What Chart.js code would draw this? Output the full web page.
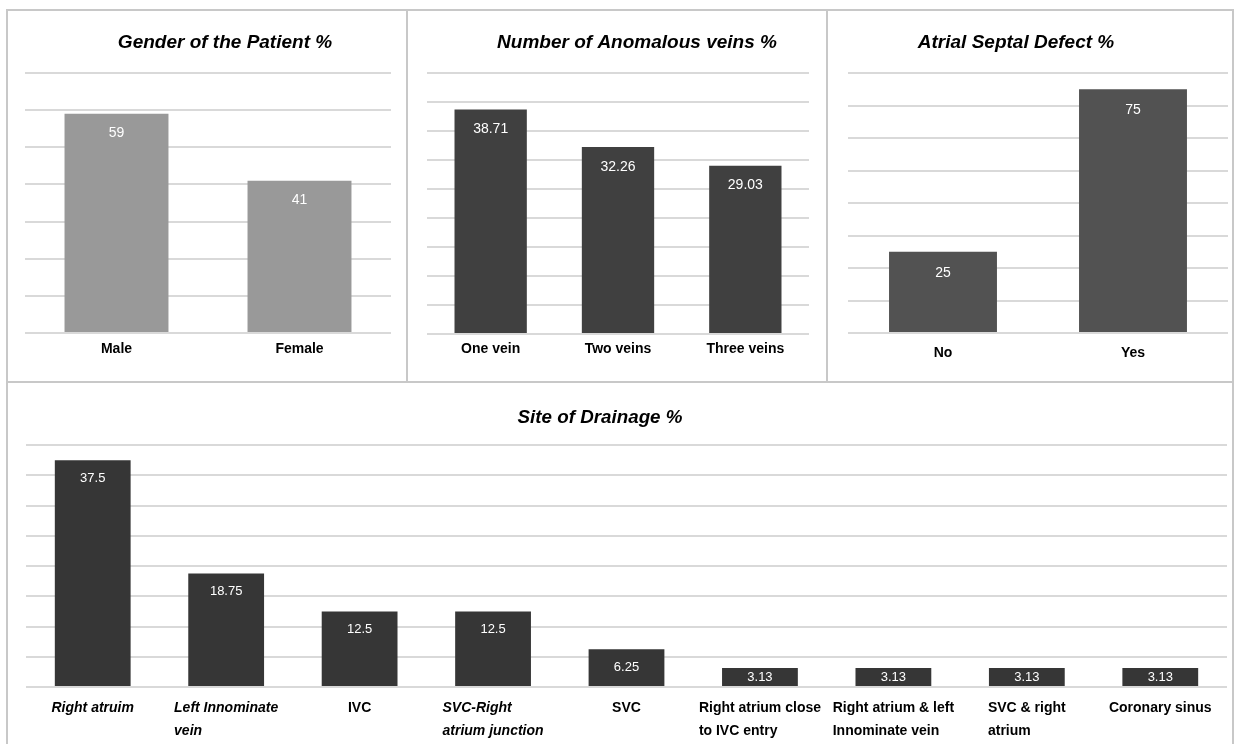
<!DOCTYPE html>
<html>
<head>
<meta charset="utf-8">
<title>Patient characteristics</title>
<script src="https://cdn.jsdelivr.net/npm/chart.js@4.4.1/dist/chart.umd.min.js"></script>
<style>
  html, body { margin: 0; padding: 0; background: #ffffff; }
  #stage { position: relative; width: 1237px; height: 744px; overflow: hidden; background: #ffffff; }
  #stage canvas { position: absolute; }
  .rule { position: absolute; background: #c8c8c8; }
</style>
</head>
<body>
<div id="stage">
  <canvas id="genderChart" width="398" height="370" style="left:8px;top:11px"></canvas>
  <canvas id="veinChart" width="418" height="370" style="left:408px;top:11px"></canvas>
  <canvas id="asdChart" width="404" height="370" style="left:828px;top:11px"></canvas>
  <canvas id="drainageChart" width="1224" height="361" style="left:8px;top:383px"></canvas>

  <div class="rule" style="left:6px;top:9px;width:1228px;height:2px"></div>
  <div class="rule" style="left:6px;top:9px;width:2px;height:736px"></div>
  <div class="rule" style="left:1232px;top:9px;width:2px;height:736px"></div>
  <div class="rule" style="left:406px;top:9px;width:2px;height:374px"></div>
  <div class="rule" style="left:826px;top:9px;width:2px;height:374px"></div>
  <div class="rule" style="left:6px;top:381px;width:1228px;height:2px"></div>
</div>

<script>
// ---- data ----
const genderLabels = ['Male', 'Female'];
const genderValues = [59, 41];

const veinLabels = ['One vein', 'Two veins', 'Three veins'];
const veinValues = [38.71, 32.26, 29.03];

const asdLabels = ['No', 'Yes'];
const asdValues = [25, 75];

const drainageLabels = [
  ['Right atruim'],
  ['Left Innominate', 'vein'],
  ['IVC'],
  ['SVC-Right', 'atrium junction'],
  ['SVC'],
  ['Right atrium close', 'to IVC entry'],
  ['Right atrium & left', 'Innominate vein'],
  ['SVC & right', 'atrium'],
  ['Coronary sinus']
];
const drainageValues = [37.5, 18.75, 12.5, 12.5, 6.25, 3.13, 3.13, 3.13, 3.13];

// ---- shared styling ----
const FONT = '"Liberation Sans", Arial, sans-serif';
const GRID = '#d9d9d9';
const BAR_FRACTION = 0.568;
const drainageItalic = new Set([0, 1, 3]);   // category indices set in italic

// Chart heading, drawn centred at a given point of the canvas
const panelTitle = {
  id: 'panelTitle',
  afterDraw(chart, args, opts) {
    const ctx = chart.ctx;
    ctx.save();
    ctx.font = 'italic bold 19px ' + FONT;
    ctx.fillStyle = '#000000';
    ctx.textAlign = 'center';
    ctx.textBaseline = 'middle';
    ctx.fillText(opts.text, opts.x, opts.y, opts.maxWidth);
    ctx.restore();
  }
};

// White value labels placed inside the top of every bar
const valueLabels = {
  id: 'valueLabels',
  afterDatasetsDraw(chart, args, opts) {
    const ctx = chart.ctx;
    const meta = chart.getDatasetMeta(0);
    const values = chart.data.datasets[0].data;
    ctx.save();
    ctx.font = opts.size + 'px ' + FONT;
    ctx.fillStyle = '#ffffff';
    ctx.textAlign = 'center';
    ctx.textBaseline = 'middle';
    meta.data.forEach((bar, i) => {
      const y = Math.min(bar.y + opts.offset, (bar.y + bar.base) / 2);
      ctx.fillText(String(values[i]), bar.x, y);
    });
    ctx.restore();
  }
};

// Wrapped category labels: block centred on the category, lines left-aligned
const blockLabels = {
  id: 'blockLabels',
  afterDraw(chart, args, opts) {
    const ctx = chart.ctx;
    const xs = chart.scales.x;
    const top = chart.chartArea.bottom + opts.offset;
    ctx.save();
    ctx.fillStyle = '#000000';
    ctx.textAlign = 'left';
    ctx.textBaseline = 'middle';
    chart.data.labels.forEach((lines, i) => {
      ctx.font = (drainageItalic.has(i) ? 'italic ' : '') + 'bold ' + opts.size + 'px ' + FONT;
      const w = Math.max(...lines.map(l => ctx.measureText(l).width));
      const x0 = xs.getPixelForValue(i) - w / 2;
      lines.forEach((line, j) => ctx.fillText(line, x0, top + j * opts.lineGap));
    });
    ctx.restore();
  }
};

function makeChart(id, cfg) {
  const axisH = cfg.axisHeight;
  return new Chart(document.getElementById(id), {
    type: 'bar',
    data: {
      labels: cfg.labels,
      datasets: [{
        data: cfg.values,
        backgroundColor: cfg.color,
        borderWidth: 0,
        categoryPercentage: 1,
        barPercentage: BAR_FRACTION
      }]
    },
    plugins: cfg.plugins,
    options: {
      responsive: false,
      animation: false,
      events: [],
      layout: { padding: cfg.padding },
      plugins: {
        legend: { display: false },
        tooltip: { enabled: false },
        panelTitle: cfg.title,
        valueLabels: cfg.valueLabels,
        blockLabels: cfg.blockLabels || {}
      },
      scales: {
        x: {
          grid: { display: false, drawTicks: false },
          border: { display: false },
          ticks: {
            display: cfg.nativeTicks,
            color: '#000000',
            padding: cfg.tickPadding || 0,
            maxRotation: 0,
            autoSkip: false,
            font: { family: FONT, size: 14, weight: 'bold' }
          },
          afterFit(scale) { scale.height = axisH; }
        },
        y: {
          min: 0,
          max: cfg.max,
          grid: { color: GRID, lineWidth: 2, drawTicks: false },
          border: { display: false },
          ticks: { display: false, stepSize: cfg.step },
          afterFit(scale) { scale.width = 0; }
        }
      }
    }
  });
}

makeChart('genderChart', {
  labels: genderLabels, values: genderValues, color: '#999999',
  max: 70, step: 10,
  padding: { left: 17, right: 15, top: 62, bottom: 0 },
  axisHeight: 48, nativeTicks: true, tickPadding: 8,
  title: { text: 'Gender of the Patient %', x: 217, y: 32, maxWidth: 215 },
  valueLabels: { size: 14, offset: 19 },
  plugins: [panelTitle, valueLabels]
});

makeChart('veinChart', {
  labels: veinLabels, values: veinValues, color: '#404040',
  max: 45, step: 5,
  padding: { left: 19, right: 17, top: 62, bottom: 0 },
  axisHeight: 47, nativeTicks: true, tickPadding: 7,
  title: { text: 'Number of Anomalous veins %', x: 229, y: 32, maxWidth: 289 },
  valueLabels: { size: 14, offset: 20 },
  plugins: [panelTitle, valueLabels]
});

makeChart('asdChart', {
  labels: asdLabels, values: asdValues, color: '#525252',
  max: 80, step: 10,
  padding: { left: 20, right: 4, top: 62, bottom: 0 },
  axisHeight: 48, nativeTicks: true, tickPadding: 12,
  title: { text: 'Atrial Septal Defect %', x: 188, y: 32, maxWidth: 198 },
  valueLabels: { size: 14, offset: 21 },
  plugins: [panelTitle, valueLabels]
});

makeChart('drainageChart', {
  labels: drainageLabels, values: drainageValues, color: '#363636',
  max: 40, step: 5,
  padding: { left: 18, right: 5, top: 62, bottom: 0 },
  axisHeight: 57, nativeTicks: false,
  title: { text: 'Site of Drainage %', x: 592, y: 35, maxWidth: 165 },
  valueLabels: { size: 13, offset: 18 },
  blockLabels: { size: 14, offset: 21, lineGap: 23 },
  plugins: [panelTitle, valueLabels, blockLabels]
});
</script>
</body>
</html>
